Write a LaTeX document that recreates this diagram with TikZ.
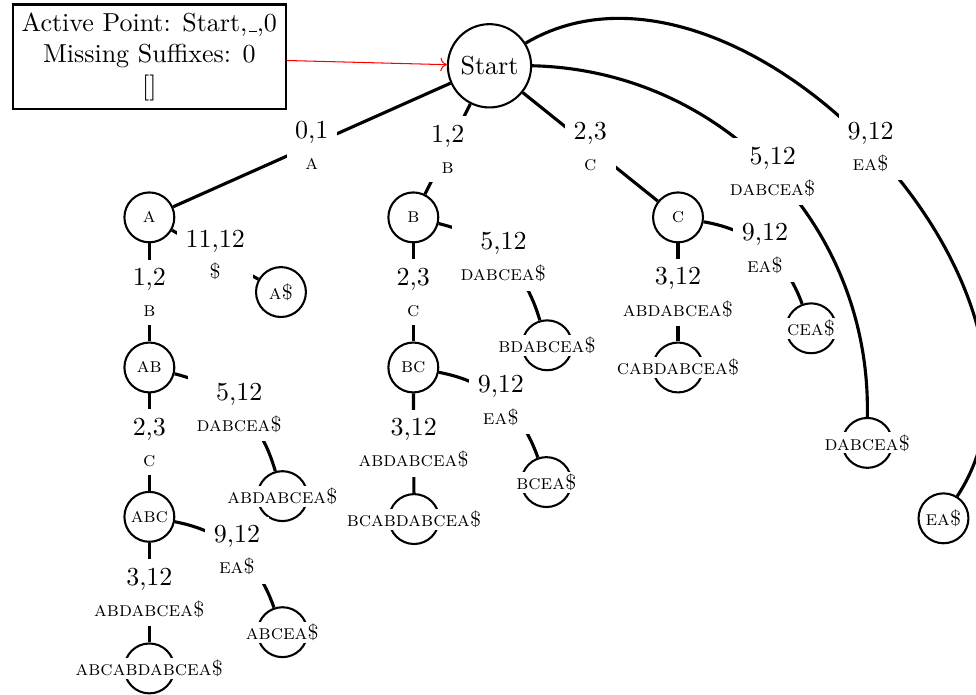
\documentclass[tikz,border=0pt]{standalone}
\usepackage{tikz}
\usetikzlibrary{positioning}
\usetikzlibrary{arrows.meta}

\newcommand{\edgetext}[2]{#1\\{\footnotesize\scshape #2}}
\newcommand{\blank}{\leavevmode\kern.06em\vbox{\hrule width.3em}}

\begin{document}
\begin{tikzpicture}[
		state/.style = {
			shape=circle,
			draw,
			thick,
			minimum size=19.2pt,
			inner sep=0pt,
			label={[statetext]center:#1}
		},
		statetext/.style = {
			fill=white,
			inner sep=0.8pt,
			font=\footnotesize\scshape
		},
		branch/.style = {very thick},
		edgelabel/.style = {fill=white, align=center}
		]
		\useasboundingbox (0,0) rectangle (13.20,-9.39);

		% status box and root
		\node[draw, thick, align=center] (info) at (2.02,-0.77)
			{Active Point: Start,\blank,0 \\ Missing Suffixes: 0 \\ {[]}};
		\node[draw, thick, circle] (start) at (6.62,-0.89) {Start};
		\draw[red, ->] (info) -- (start);

		% states
		\node[state=a] (a) at (2.02,-2.94) {};
		\node[state=b] (b) at (5.59,-2.94) {};
		\node[state=c] (c) at (9.17,-2.94) {};
		\node[state=dabcea\$] (dabcea) at (11.73,-5.99) {};
		\node[state=ea\$] (ea) at (12.76,-7.01) {};
		\node[state=a\$] (as) at (3.80,-3.95) {};
		\node[state=ab] (ab) at (2.02,-4.97) {};
		\node[state=abdabcea\$] (abdabcea) at (3.82,-6.71) {};
		\node[state=abc] (abc) at (2.02,-6.99) {};
		\node[state=abcea\$] (abcea) at (3.82,-8.55) {};
		\node[state=abcabdabcea\$] (abcabdabcea) at (2.02,-9.04) {};
		\node[state=bdabcea\$] (bdabcea) at (7.40,-4.67) {};
		\node[state=bc] (bc) at (5.59,-4.97) {};
		\node[state=bcea\$] (bcea) at (7.39,-6.52) {};
		\node[state=bcabdabcea\$] (bcabdabcea) at (5.60,-7.02) {};
		\node[state=cabdabcea\$] (cabdabcea) at (9.17,-4.97) {};
		\node[state=cea\$] (cea) at (10.97,-4.44) {};

		% edges out of the root
		\draw[branch] (start) -- node[edgelabel]{\edgetext{0,1}{a}} (a);
		\draw[branch] (start) -- node[edgelabel]{\edgetext{1,2}{b}} (b);
		\draw[branch] (start) -- node[edgelabel]{\edgetext{2,3}{c}} (c);
		\draw[branch] (start) to[bend left=45] node[edgelabel]{\edgetext{5,12}{dabcea\$}} (dabcea);
		\draw[branch] (start) to[bend left=77] node[edgelabel]{\edgetext{9,12}{ea\$}} (ea);

		% edges further down
		\draw[branch] (a) -- node[edgelabel]{\edgetext{1,2}{b}} (ab);
		\draw[branch] (a) -- node[edgelabel]{\edgetext{11,12}{\$}} (as);
		\draw[branch] (ab) -- node[edgelabel]{\edgetext{2,3}{c}} (abc);
		\draw[branch] (ab) to[bend left=30] node[edgelabel]{\edgetext{5,12}{dabcea\$}} (abdabcea);
		\draw[branch] (abc) -- node[edgelabel]{\edgetext{3,12}{abdabcea\$}} (abcabdabcea);
		\draw[branch] (abc) to[bend left=30] node[edgelabel]{\edgetext{9,12}{ea\$}} (abcea);
		\draw[branch] (b) -- node[edgelabel]{\edgetext{2,3}{c}} (bc);
		\draw[branch] (b) to[bend left=30] node[edgelabel]{\edgetext{5,12}{dabcea\$}} (bdabcea);
		\draw[branch] (bc) -- node[edgelabel]{\edgetext{3,12}{abdabcea\$}} (bcabdabcea);
		\draw[branch] (bc) to[bend left=30] node[edgelabel]{\edgetext{9,12}{ea\$}} (bcea);
		\draw[branch] (c) -- node[edgelabel]{\edgetext{3,12}{abdabcea\$}} (cabdabcea);
		\draw[branch] (c) to[bend left=30] node[edgelabel]{\edgetext{9,12}{ea\$}} (cea);
	\end{tikzpicture}
\end{document}
